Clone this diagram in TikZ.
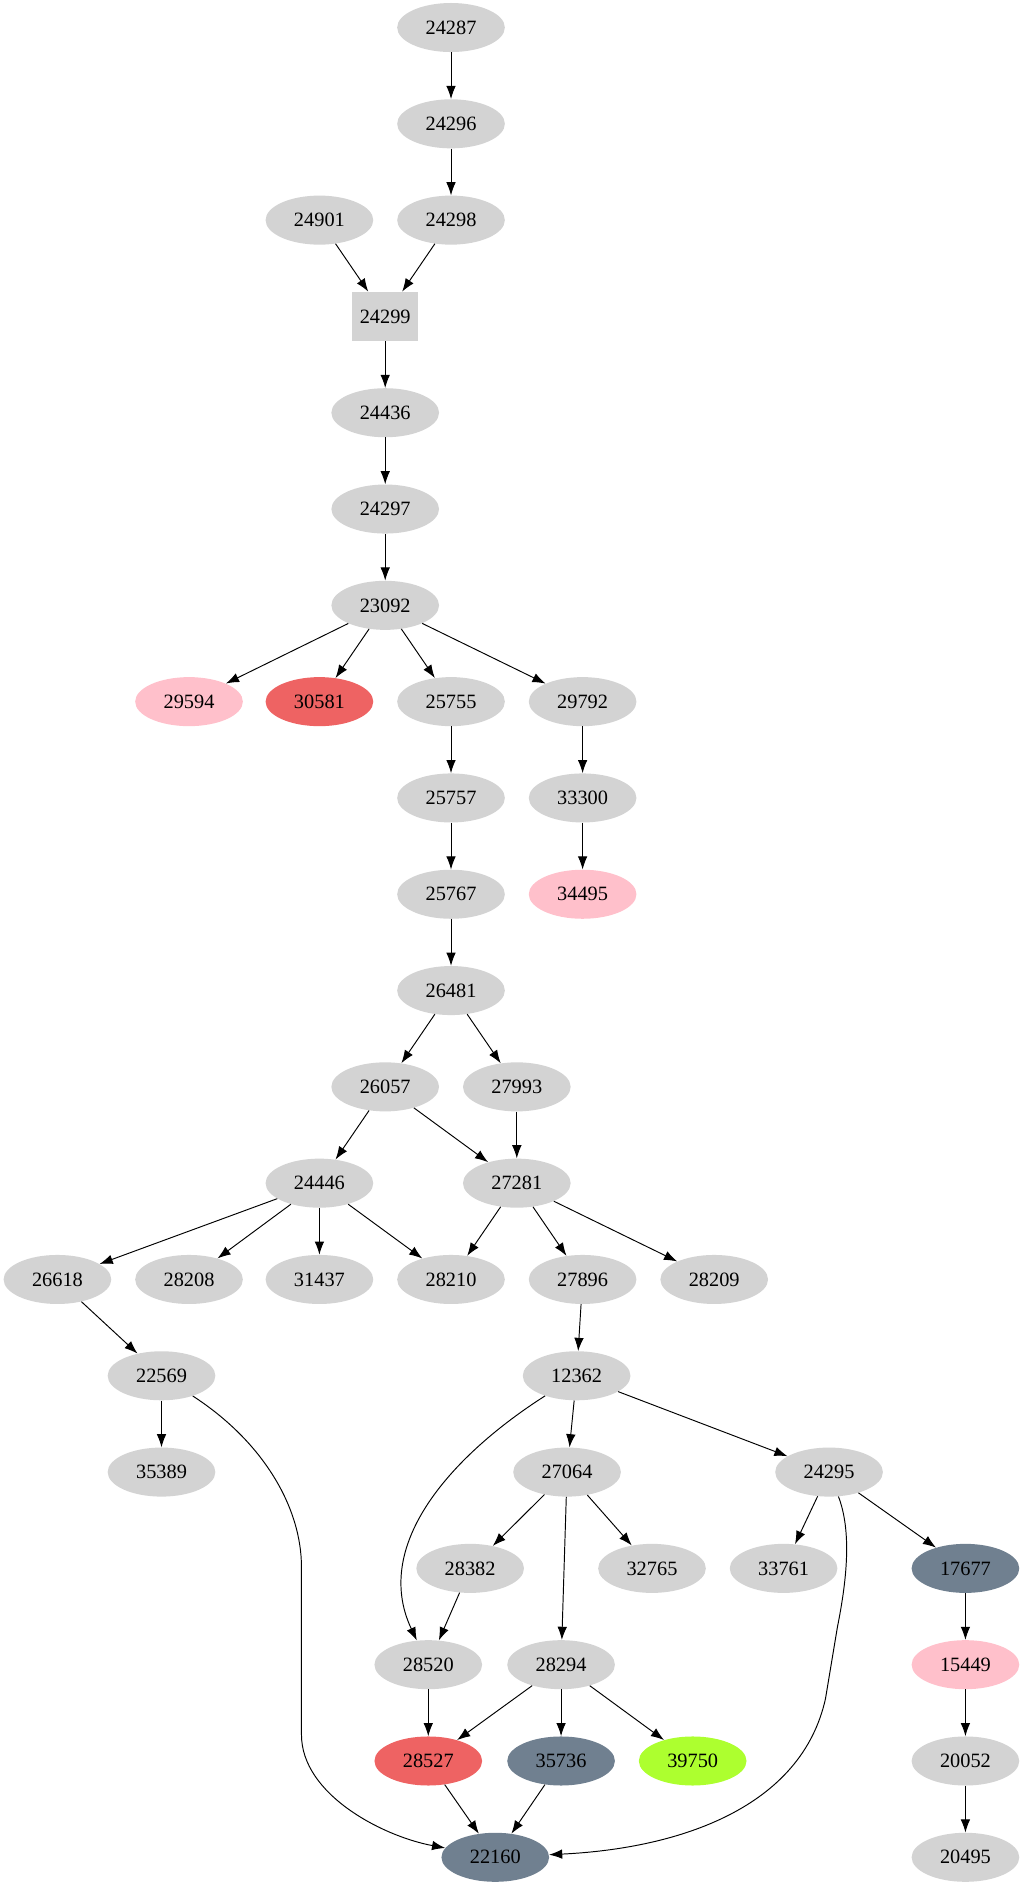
\documentclass[tikz,border=0pt]{standalone}
\usepackage{fontspec}
\setmainfont{Liberation Serif}
\begin{document}
\begin{tikzpicture}[x=1pt,y=-1pt,
 n/.style={ellipse,fill=lg,minimum width=90pt,minimum height=41pt,inner sep=0pt,font=\fontsize{17}{17}\selectfont},
 a/.style={-{Latex[length=11pt,width=8pt]},line width=0.8pt}]
\usetikzlibrary{shapes.geometric,arrows.meta}
\definecolor{lg}{HTML}{D3D3D3}\definecolor{pk}{HTML}{FFC0CB}\definecolor{rd}{HTML}{EE6363}
\definecolor{sg}{HTML}{708090}\definecolor{gy}{HTML}{ADFF2F}
\useasboundingbox (0,0) rectangle (855,1574);
\node[n] (24287) at (377,23) {24287};
\node[n] (24296) at (377,103.5) {24296};
\node[n] (24901) at (267,184) {24901};
\node[n] (24298) at (377,184) {24298};
\node[rectangle,fill=lg,minimum width=55pt,minimum height=41pt,font=\fontsize{17}{17}\selectfont] (24299) at (322,264.5) {24299};
\node[n] (24436) at (322,345) {24436};
\node[n] (24297) at (322,425.5) {24297};
\node[n] (23092) at (322,506) {23092};
\node[n,fill=pk] (29594) at (158,586.5) {29594};
\node[n,fill=rd] (30581) at (267,586.5) {30581};
\node[n] (25755) at (377,586.5) {25755};
\node[n] (29792) at (487,586.5) {29792};
\node[n] (25757) at (377,667) {25757};
\node[n] (33300) at (487,667) {33300};
\node[n] (25767) at (377,747.5) {25767};
\node[n,fill=pk] (34495) at (487,747.5) {34495};
\node[n] (26481) at (377,828) {26481};
\node[n] (26057) at (322,908.5) {26057};
\node[n] (27993) at (432,908.5) {27993};
\node[n] (24446) at (267,989) {24446};
\node[n] (27281) at (432,989) {27281};
\node[n] (26618) at (48,1069.5) {26618};
\node[n] (28208) at (158,1069.5) {28208};
\node[n] (31437) at (267,1069.5) {31437};
\node[n] (28210) at (377,1069.5) {28210};
\node[n] (27896) at (487,1069.5) {27896};
\node[n] (28209) at (597,1069.5) {28209};
\node[n] (22569) at (135,1150) {22569};
\node[n] (12362) at (482,1150) {12362};
\node[n] (35389) at (135,1230.5) {35389};
\node[n] (27064) at (474,1230.5) {27064};
\node[n] (24295) at (693,1230.5) {24295};
\node[n] (28382) at (393,1311) {28382};
\node[n] (32765) at (545,1311) {32765};
\node[n] (33761) at (655,1311) {33761};
\node[n,fill=sg] (17677) at (807,1311) {17677};
\node[n] (28520) at (358,1391.5) {28520};
\node[n] (28294) at (469,1391.5) {28294};
\node[n,fill=pk] (15449) at (807,1391.5) {15449};
\node[n,fill=rd] (28527) at (358,1472) {28527};
\node[n,fill=sg] (35736) at (469,1472) {35736};
\node[n,fill=gy] (39750) at (579,1472) {39750};
\node[n] (20052) at (807,1472) {20052};
\node[n,fill=sg] (22160) at (414,1552.5) {22160};
\node[n] (20495) at (807,1552.5) {20495};
\foreach \s/\t in {24287/24296,24296/24298,24901/24299,24298/24299,24299/24436,24436/24297,24297/23092,
 23092/29594,23092/30581,23092/25755,23092/29792,25755/25757,29792/33300,25757/25767,33300/34495,
 25767/26481,26481/26057,26481/27993,26057/24446,26057/27281,27993/27281,
 24446/26618,24446/28208,24446/31437,24446/28210,27281/28210,27281/27896,27281/28209,
 26618/22569,27896/12362,22569/35389,12362/27064,12362/24295,
 27064/28382,27064/32765,27064/28294,24295/33761,24295/17677,28382/28520,
 17677/15449,28520/28527,28294/28527,28294/35736,28294/39750,15449/20052,
 28527/22160,35736/22160,20052/20495}
 \draw[a] (\s) -- (\t);
\draw[a] (12362) .. controls (380,1215) and (310,1290) .. (28520);
\draw[a] (22569) .. controls (220,1205) and (252,1260) .. (252,1310) -- (252,1450) .. controls (252,1500) and (320,1535) .. (22160);
\draw[a] (24295) .. controls (712,1280) and (708,1320) .. (700,1360) -- (690,1420) .. controls (670,1510) and (570,1545) .. (22160);
\end{tikzpicture}
\end{document}
